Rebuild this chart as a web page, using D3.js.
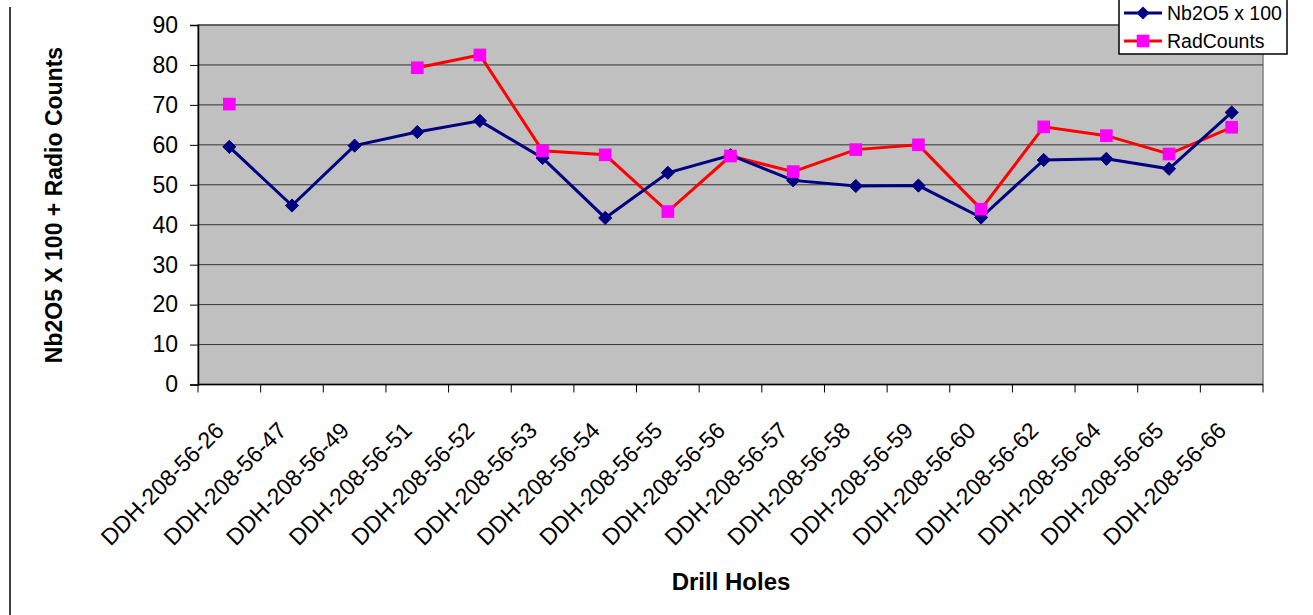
<!DOCTYPE html>
<html>
<head>
<meta charset="utf-8">
<script src="https://cdn.jsdelivr.net/npm/d3@7"></script>
<style>
	body { margin: 0; background: #fff; }
	svg { display: block; font-family: Arial, "Liberation Sans", sans-serif; }
</style>
</head>
<body>
<div id="chart"></div>
<script>
var holes = [
	"DDH-208-56-26", "DDH-208-56-47", "DDH-208-56-49", "DDH-208-56-51",
	"DDH-208-56-52", "DDH-208-56-53", "DDH-208-56-54", "DDH-208-56-55",
	"DDH-208-56-56", "DDH-208-56-57", "DDH-208-56-58", "DDH-208-56-59",
	"DDH-208-56-60", "DDH-208-56-62", "DDH-208-56-64", "DDH-208-56-65",
	"DDH-208-56-66"
];
var nb2o5 = [59.5, 44.8, 59.8, 63.2, 66.0, 56.7, 41.7, 53.0, 57.4, 51.1, 49.7, 49.8, 41.8, 56.2, 56.5, 54.0, 68.1];
var radCounts = [70.2, null, null, 79.3, 82.5, 58.5, 57.5, 43.3, 57.2, 53.3, 58.8, 60.0, 43.9, 64.5, 62.3, 57.7, 64.4];
var yTicks = [0, 10, 20, 30, 40, 50, 60, 70, 80, 90];

var width = 1313, height = 615;
var plot = { left: 198, right: 1263, top: 25, bottom: 384.5 };

var svg = d3.select("#chart").append("svg")
	.attr("width", width)
	.attr("height", height);

var x = d3.scaleBand().domain(holes).range([plot.left, plot.right]);
var y = d3.scaleLinear().domain([0, 90]).range([plot.bottom, plot.top]);

// left frame line
svg.append("line")
	.attr("x1", 10).attr("x2", 10)
	.attr("y1", 7).attr("y2", height)
	.attr("stroke", "#000").attr("stroke-width", 1.5);

// plot background
svg.append("rect")
	.attr("x", plot.left).attr("y", plot.top)
	.attr("width", plot.right - plot.left)
	.attr("height", plot.bottom - plot.top)
	.attr("fill", "#c0c0c0")
	.attr("stroke", "#808080")
	.attr("stroke-width", 1.5);

// gridlines
svg.append("g").selectAll("line")
	.data(yTicks.slice(1))
	.enter().append("line")
	.attr("x1", plot.left).attr("x2", plot.right)
	.attr("y1", function (d) { return y(d); })
	.attr("y2", function (d) { return y(d); })
	.attr("stroke", "#333")
	.attr("stroke-width", 1);

// y axis
var yAxis = svg.append("g")
	.attr("transform", "translate(" + plot.left + ",0)")
	.call(d3.axisLeft(y).tickValues(yTicks).tickSize(8).tickPadding(12));
yAxis.select(".domain").attr("stroke", "#000").attr("stroke-width", 1.5);
yAxis.selectAll(".tick line").attr("stroke", "#000");
yAxis.selectAll("text").attr("font-size", 23).attr("fill", "#000")
	.attr("font-family", "Arial, 'Liberation Sans', sans-serif");

// x axis
svg.append("line")
	.attr("x1", plot.left).attr("x2", plot.right)
	.attr("y1", plot.bottom).attr("y2", plot.bottom)
	.attr("stroke", "#000").attr("stroke-width", 1.5);

var bounds = holes.map(function (d) { return x(d); }).concat([plot.right]);
svg.append("g").selectAll("line")
	.data(bounds)
	.enter().append("line")
	.attr("x1", function (d) { return d; })
	.attr("x2", function (d) { return d; })
	.attr("y1", plot.bottom).attr("y2", plot.bottom + 8)
	.attr("stroke", "#000");

svg.append("g").selectAll("text")
	.data(holes)
	.enter().append("text")
	.attr("transform", function (d) {
		return "translate(" + (x(d) + x.bandwidth() / 2 - 4) + "," + 432 + ") rotate(-45)";
	})
	.attr("text-anchor", "end")
	.attr("font-size", 23)
	.text(function (d) { return d; });

// axis titles
svg.append("text")
	.attr("transform", "translate(62," + 205 + ") rotate(-90)")
	.attr("text-anchor", "middle")
	.attr("font-size", 23)
	.attr("font-weight", "bold")
	.text("Nb2O5 X 100 + Radio Counts");

svg.append("text")
	.attr("x", 731).attr("y", 590)
	.attr("text-anchor", "middle")
	.attr("font-size", 24)
	.attr("font-weight", "bold")
	.text("Drill Holes");

// series
var cx = function (d, i) { return x(holes[i]) + x.bandwidth() / 2; };

var lineGen = d3.line()
	.defined(function (d) { return d != null; })
	.x(cx)
	.y(function (d) { return y(d); });

svg.append("path")
	.datum(radCounts)
	.attr("d", lineGen)
	.attr("fill", "none")
	.attr("stroke", "#ff0000")
	.attr("stroke-width", 3);

svg.append("path")
	.datum(nb2o5)
	.attr("d", lineGen)
	.attr("fill", "none")
	.attr("stroke", "#000080")
	.attr("stroke-width", 3);

var diamond = d3.symbol().type(d3.symbolDiamond2).size(110);
var square = d3.symbol().type(d3.symbolSquare).size(160);

svg.append("g").selectAll("path")
	.data(nb2o5)
	.enter().append("path")
	.attr("transform", function (d, i) { return "translate(" + cx(d, i) + "," + y(d) + ")"; })
	.attr("d", diamond)
	.attr("fill", "#000080")
	.attr("stroke", "#000080");

svg.append("g").selectAll("path")
	.data(radCounts.map(function (v, i) { return { v: v, i: i }; }).filter(function (d) { return d.v != null; }))
	.enter().append("path")
	.attr("transform", function (d) { return "translate(" + cx(d.v, d.i) + "," + y(d.v) + ")"; })
	.attr("d", square)
	.attr("fill", "#ff00ff");

// legend
var legend = svg.append("g");
legend.append("rect")
	.attr("x", 1119).attr("y", -5)
	.attr("width", 168).attr("height", 59)
	.attr("fill", "#fff")
	.attr("stroke", "#000")
	.attr("stroke-width", 1.5);

var legendItems = [
	{ name: "Nb2O5 x 100", color: "#000080", fill: "#000080", sym: diamond, yy: 13 },
	{ name: "RadCounts", color: "#ff0000", fill: "#ff00ff", sym: square, yy: 41 }
];
legendItems.forEach(function (it) {
	legend.append("line")
		.attr("x1", 1124).attr("x2", 1162)
		.attr("y1", it.yy).attr("y2", it.yy)
		.attr("stroke", it.color).attr("stroke-width", 3);
	legend.append("path")
		.attr("transform", "translate(1143," + it.yy + ")")
		.attr("d", it.sym)
		.attr("fill", it.fill);
	legend.append("text")
		.attr("x", 1167).attr("y", it.yy)
		.attr("dy", "0.35em")
		.attr("font-size", 19.5)
		.text(it.name);
});
</script>
</body>
</html>
